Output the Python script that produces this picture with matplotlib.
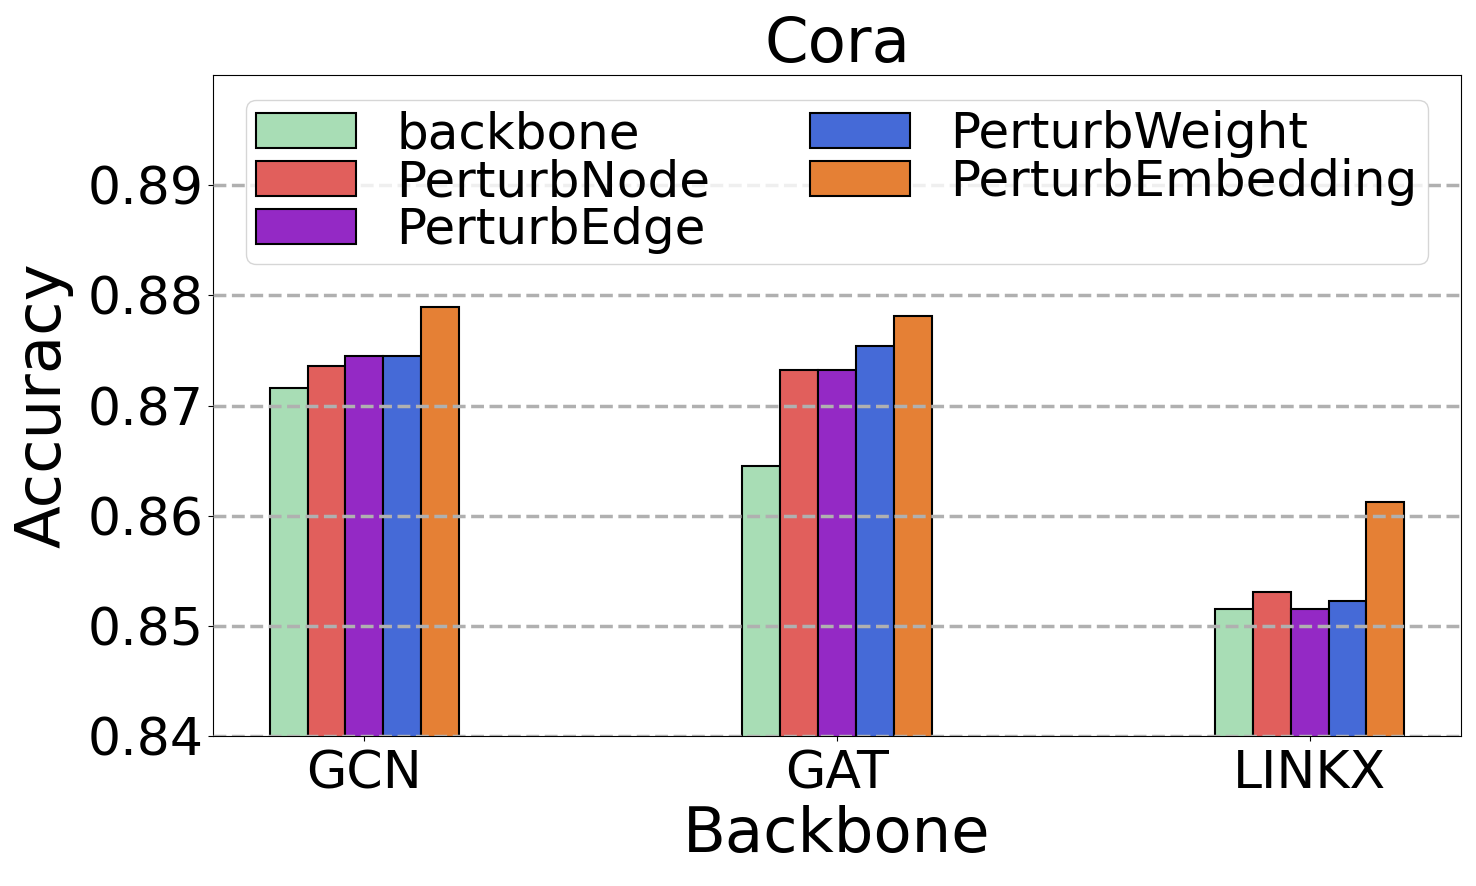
import matplotlib
matplotlib.use("Agg")
import matplotlib.pyplot as plt
import numpy as np

categories = ["GCN", "GAT", "LINKX"]
methods = ["backbone", "PerturbNode", "PerturbEdge", "PerturbWeight", "PerturbEmbedding"]
backbone = [0.8716, 0.8645, 0.8515]
perturb_node = [0.8736, 0.8732, 0.8531]
perturb_edge = [0.8745, 0.8732, 0.8515]
perturb_weight = [0.8745, 0.8754, 0.8523]
perturb_embedding = [0.8789, 0.8781, 0.8612]
series = [backbone, perturb_node, perturb_edge, perturb_weight, perturb_embedding]
colors = ["#a8ddb5", "#e15f5c", "#9429c5", "#456ad7", "#e58035"]
yticks = [0.84, 0.85, 0.86, 0.87, 0.88, 0.89]

fig = plt.figure(figsize=(14.76, 8.86), dpi=100)
ax = fig.add_axes([0.1443, 0.1693, 0.9898 - 0.1443, 0.9153 - 0.1693])

x = np.arange(len(categories))
width = 0.08
for i, (name, vals, c) in enumerate(zip(methods, series, colors)):
    ax.bar(x + (i - 2) * width, vals, width, label=name, color=c,
           edgecolor="black", linewidth=1.5)

ax.set_ylim(0.84, 0.90)
ax.set_xlim(-0.32, 2.32)
ax.set_yticks(yticks)
ax.set_yticklabels([f"{v:.2f}" for v in yticks])
ax.set_xticks(x)
ax.set_xticklabels(categories)
ax.tick_params(axis="both", labelsize=37.5)
ax.tick_params(axis="x", pad=6)
ax.set_axisbelow(False)
ax.yaxis.grid(True, linestyle="--", color="#b0b0b0", linewidth=2.5)
ax.set_xlabel("Backbone", fontsize=45, labelpad=4)
ax.set_ylabel("Accuracy", fontsize=45, labelpad=10)
ax.set_title("Cora", fontsize=45, pad=6)
ax.legend(loc="upper center", ncol=2, fontsize=36, labelspacing=0.0,
          borderpad=0.2)

fig.savefig("out.png", dpi=100)
